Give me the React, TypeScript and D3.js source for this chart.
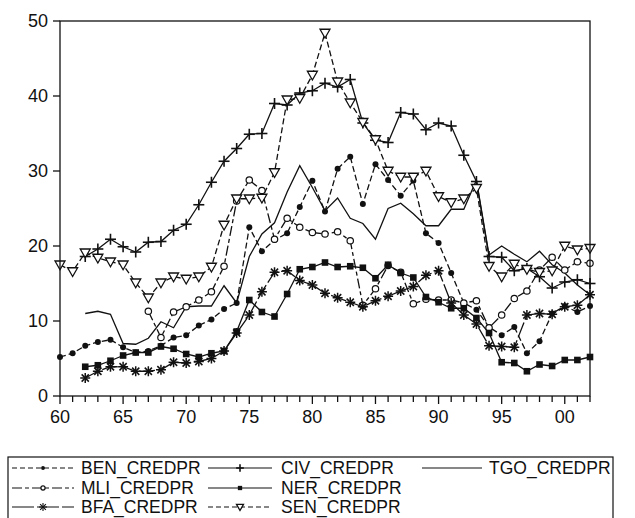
import React from "react";
import * as d3 from "d3";

// Private-sector credit (% of GDP), WAEMU countries, 1960-2002
const years: number[] = d3.range(1960, 2003);

const BEN_CREDPR: (number | null)[] = [
  5.2, 5.7, 6.7, 7.2, 7.5, 6.5, 5.8, 6.0, 6.7, 7.8, 8.1, 9.4, 10.2, 11.6, 12.4,
  22.5, 19.3, 20.8, 21.7, 25.2, 28.7, 24.6, 30.3, 31.9, 25.6, 30.9, 28.8, 26.7,
  28.7, 21.7, 20.4, 16.4, 12.4, 11.5, 9.2, 8.1, 9.2, 5.7, 7.3, 11.0, 12.0, 11.2, 12.0,
];
const CIV_CREDPR: (number | null)[] = [
  null, null, 18.6, 19.6, 20.9, 19.9, 19.2, 20.5, 20.6, 22.1, 22.9, 25.5, 28.5,
  31.3, 33.0, 34.9, 35.0, 39.0, 38.8, 40.4, 40.7, 41.7, 41.2, 42.2, 36.4, 34.1,
  33.8, 37.8, 37.6, 35.5, 36.4, 36.0, 32.1, 28.6, 18.6, 18.5, 16.7, 17.0, 15.9,
  14.4, 15.2, 15.5, 15.0,
];
const TGO_CREDPR: (number | null)[] = [
  null, null, 11.0, 11.3, 10.9, 7.0, 6.9, 7.7, 9.9, 9.1, 11.9, 12.0, 12.0, 14.7,
  12.4, 18.6, 21.6, 23.1, 27.2, 30.7, 27.8, 24.7, 26.4, 23.7, 23.0, 20.9, 25.0,
  25.7, 24.3, 22.7, 22.7, 24.9, 24.9, 28.8, 18.8, 20.0, 18.9, 17.9, 19.3, 17.5,
  16.4, 14.8, 13.5,
];
const MLI_CREDPR: (number | null)[] = [
  null, null, null, null, null, null, null, 11.3, 7.8, 11.2, 11.9, 12.8, 13.9,
  17.3, 26.0, 28.8, 27.4, 20.9, 23.7, 22.5, 21.8, 21.6, 21.9, 20.7, 12.1, 14.3,
  17.4, 16.5, 12.3, 12.9, 12.8, 12.8, 12.4, 12.7, 9.1, 10.8, 13.0, 14.0, 16.8,
  18.5, 16.8, 17.9, 17.7,
];
const NER_CREDPR: (number | null)[] = [
  null, null, 3.9, 4.1, 4.7, 5.4, 5.8, 5.8, 6.6, 6.3, 5.6, 5.2, 5.7, 6.0, 8.6,
  12.8, 11.2, 10.6, 13.6, 16.9, 17.2, 17.8, 17.2, 17.3, 17.1, 15.7, 17.5, 16.4,
  15.8, 13.2, 12.5, 11.7, 11.7, 10.4, 8.4, 4.5, 4.4, 3.3, 4.2, 4.0, 4.8, 4.8, 5.2,
];
const BFA_CREDPR: (number | null)[] = [
  null, null, 2.4, 3.3, 3.9, 3.9, 3.3, 3.3, 3.5, 4.5, 4.4, 4.6, 5.0, 6.0, 8.4,
  10.8, 13.9, 16.5, 16.7, 15.4, 14.8, 13.7, 13.1, 12.5, 11.9, 12.7, 13.3, 14.0,
  14.6, 16.1, 16.7, 12.4, 10.8, 9.6, 6.7, 6.6, 6.5, 10.8, 11.0, 10.9, 11.9, 12.1, 13.5,
];
const SEN_CREDPR: (number | null)[] = [
  17.5, 16.6, 19.1, 18.4, 17.9, 17.5, 15.1, 13.1, 15.1, 15.9, 15.6, 15.9, 17.2,
  22.8, 26.3, 26.3, 26.4, 29.8, 39.5, 39.7, 42.8, 48.4, 41.9, 39.1, 36.5, 34.2,
  30.0, 29.2, 29.2, 30.0, 26.6, 25.8, 26.3, 27.7, 17.3, 15.9, 17.6, 16.9, 16.5,
  16.7, 20.0, 19.5, 19.7,
];

const yTicks: number[] = [0, 10, 20, 30, 40, 50];
const xTickYears: number[] = [1960, 1965, 1970, 1975, 1980, 1985, 1990, 1995, 2000];
const xTickLabels: string[] = ["60", "65", "70", "75", "80", "85", "90", "95", "00"];

type Marker = "dot" | "plus" | "none" | "circle" | "square" | "star" | "tri";

interface Series {
  name: string;
  values: (number | null)[];
  marker: Marker;
  dash: string | null;
  legendDash: string | null;
  legendScale: number;
}

const series: Series[] = [
  { name: "BEN_CREDPR", values: BEN_CREDPR, marker: "dot", dash: "6,3", legendDash: "5,3", legendScale: 0.65 },
  { name: "CIV_CREDPR", values: CIV_CREDPR, marker: "plus", dash: null, legendDash: null, legendScale: 0.7 },
  { name: "TGO_CREDPR", values: TGO_CREDPR, marker: "none", dash: null, legendDash: null, legendScale: 1 },
  { name: "MLI_CREDPR", values: MLI_CREDPR, marker: "circle", dash: "10,3,4,3", legendDash: "10,3,4,3", legendScale: 0.65 },
  { name: "NER_CREDPR", values: NER_CREDPR, marker: "square", dash: null, legendDash: null, legendScale: 0.65 },
  { name: "BFA_CREDPR", values: BFA_CREDPR, marker: "star", dash: "16,3", legendDash: "22,3", legendScale: 0.8 },
  { name: "SEN_CREDPR", values: SEN_CREDPR, marker: "tri", dash: "6,3", legendDash: "5,3", legendScale: 0.7 },
];

const INK = "#111";
const FONT = "'Liberation Sans', Arial, Helvetica, sans-serif";

function MarkerShape({ type, x, y, s = 1 }: { type: Marker; x: number; y: number; s?: number }) {
  switch (type) {
    case "dot":
      return <circle cx={x} cy={y} r={3 * s} fill={INK} />;
    case "circle":
      return <circle cx={x} cy={y} r={3.2 * s} fill="#fff" stroke={INK} strokeWidth={1.2} />;
    case "square":
      return <rect x={x - 3.3 * s} y={y - 3.3 * s} width={6.6 * s} height={6.6 * s} fill={INK} />;
    case "plus": {
      const a = 5.5 * s;
      return (
        <g stroke={INK} strokeWidth={1.6}>
          <line x1={x - a} y1={y} x2={x + a} y2={y} />
          <line x1={x} y1={y - a} x2={x} y2={y + a} />
        </g>
      );
    }
    case "star": {
      const a = 5 * s;
      const d = a * 0.72;
      return (
        <g stroke={INK} strokeWidth={s < 1 ? 1.1 : 1.5}>
          <line x1={x - a} y1={y} x2={x + a} y2={y} />
          <line x1={x} y1={y - a} x2={x} y2={y + a} />
          <line x1={x - d} y1={y - d} x2={x + d} y2={y + d} />
          <line x1={x - d} y1={y + d} x2={x + d} y2={y - d} />
        </g>
      );
    }
    case "tri": {
      const h = 5 * s;
      const pts = `${x - h},${y - h * 0.75} ${x + h},${y - h * 0.75} ${x},${y + h * 1.0}`;
      return <polygon points={pts} fill="#fff" stroke={INK} strokeWidth={1.3} />;
    }
    default:
      return null;
  }
}

export default function App() {
  const width = 635;
  const height = 518;

  const x = d3.scaleLinear().domain([1960, 2002]).range([60, 590]);
  const y = d3.scaleLinear().domain([0, 50]).range([396, 21]);

  const line = d3
    .line<number | null>()
    .defined((d) => d != null)
    .x((_, i) => x(years[i]))
    .y((d) => y(d as number));

  const legendCols = [
    { x0: 12, x1: 74, tx: 81 },
    { x0: 208, x1: 272, tx: 281 },
    { x0: 422, x1: 482, tx: 489 },
  ];
  const legendRows = [468, 488, 507];
  const legendLayout: [number, number][] = [
    [0, 0], // BEN
    [1, 0], // CIV
    [2, 0], // TGO
    [0, 1], // MLI
    [1, 1], // NER
    [0, 2], // BFA
    [1, 2], // SEN
  ];

  return (
    <svg
      width={width}
      height={height}
      style={{ position: "absolute", left: 0, top: 0, background: "#fff" }}
      fontFamily={FONT}
    >
      {/* series lines */}
      {series.map((s) => (
        <path
          key={s.name}
          d={line(s.values) || ""}
          fill="none"
          stroke={INK}
          strokeWidth={1.3}
          strokeDasharray={s.dash || undefined}
          strokeLinejoin="miter"
        />
      ))}
      {/* markers */}
      {series.map((s) =>
        s.values.map((v, i) =>
          v == null ? null : (
            <MarkerShape key={s.name + i} type={s.marker} x={x(years[i])} y={y(v)} />
          )
        )
      )}

      {/* frame */}
      <rect x={60} y={21} width={530} height={375} fill="none" stroke={INK} strokeWidth={1.3} />

      {/* y axis */}
      {yTicks.map((t) => (
        <g key={t}>
          <line x1={53} x2={60} y1={y(t)} y2={y(t)} stroke={INK} strokeWidth={1.3} />
          <text x={48} y={y(t)} dy="0.35em" textAnchor="end" fontSize={18} fill={INK}>
            {t}
          </text>
        </g>
      ))}

      {/* x axis */}
      {years.map((yr) => (
        <line
          key={yr}
          x1={x(yr)}
          x2={x(yr)}
          y1={396}
          y2={yr % 5 === 0 ? 404 : 402}
          stroke={INK}
          strokeWidth={1.3}
        />
      ))}
      {xTickYears.map((yr, i) => (
        <text key={yr} x={x(yr)} y={423} textAnchor="middle" fontSize={18} fill={INK}>
          {xTickLabels[i]}
        </text>
      ))}

      {/* legend */}
      <rect x={8} y={457} width={605} height={100} fill="#fff" stroke={INK} strokeWidth={1.2} />
      {series.map((s, k) => {
        const [c, r] = legendLayout[k];
        const col = legendCols[c];
        const ly = legendRows[r];
        return (
          <g key={s.name}>
            <line
              x1={col.x0}
              x2={col.x1}
              y1={ly}
              y2={ly}
              stroke={INK}
              strokeWidth={1.2}
              strokeDasharray={s.legendDash || undefined}
            />
            <MarkerShape type={s.marker} x={(col.x0 + col.x1) / 2} y={ly} s={s.legendScale} />
            <text x={col.tx} y={ly} dy="0.36em" fontSize={17.5} fill={INK}>
              {s.name}
            </text>
          </g>
        );
      })}
    </svg>
  );
}
